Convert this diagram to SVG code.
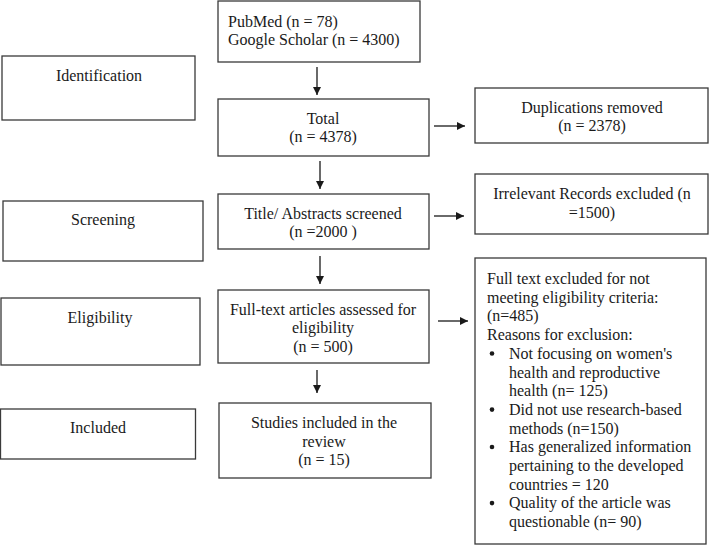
<svg xmlns="http://www.w3.org/2000/svg" width="709" height="548" viewBox="0 0 709 548">
<style>
.box{fill:#fff;stroke:#3a3a3a;stroke-width:1.3}
text{font-family:"Liberation Serif","Times New Roman",serif;font-size:16px;fill:#1a1a1a}
.c{text-anchor:middle}
.conn line{stroke:#1a1a1a;stroke-width:1.3}
</style>
<defs>
<marker id="ah" viewBox="0 0 10 10" refX="10" refY="5" markerWidth="8" markerHeight="8" markerUnits="userSpaceOnUse" orient="auto">
<path d="M0,0 L10,5 L0,10 z" fill="#1a1a1a"/>
</marker>
</defs>
<rect width="709" height="548" fill="#fff"/>
<g id="identification"><rect class="box" x="2" y="56" width="193" height="64"/><text class="c" x="99" y="81">Identification</text></g>
<g id="screening"><rect class="box" x="3" y="201" width="200" height="60"/><text class="c" x="103" y="225">Screening</text></g>
<g id="eligibility"><rect class="box" x="1" y="298" width="199" height="67"/><text class="c" x="100" y="323">Eligibility</text></g>
<g id="included"><rect class="box" x="0.5" y="409" width="195" height="50"/><text class="c" x="98" y="433">Included</text></g>
<g id="sources"><rect class="box" x="218" y="1" width="202" height="61"/><text x="228" y="27">PubMed (n = 78)</text><text x="228" y="45">Google Scholar (n = 4300)</text></g>
<g id="total"><rect class="box" x="218" y="99" width="211" height="57"/><text class="c" x="323" y="124">Total</text><text class="c" x="323" y="142">(n = 4378)</text></g>
<g id="screened"><rect class="box" x="218" y="194" width="211" height="55"/><text class="c" x="323" y="219">Title/ Abstracts screened</text><text class="c" x="323" y="237">(n =2000 )</text></g>
<g id="fulltext"><rect class="box" x="218" y="290" width="211" height="73"/><text class="c" x="323" y="315">Full-text articles assessed for</text><text class="c" x="323" y="333">eligibility</text><text class="c" x="323" y="352">(n = 500)</text></g>
<g id="studies"><rect class="box" x="219" y="403" width="212" height="75"/><text class="c" x="324" y="428">Studies included in the</text><text class="c" x="324" y="447">review</text><text class="c" x="324" y="465">(n = 15)</text></g>
<g id="duplications"><rect class="box" x="475" y="88" width="233" height="55"/><text class="c" x="592" y="113">Duplications removed</text><text class="c" x="592" y="131">(n = 2378)</text></g>
<g id="irrelevant"><rect class="box" x="475" y="174" width="233" height="60"/><text class="c" x="592" y="199">Irrelevant Records excluded (n</text><text class="c" x="592" y="218">=1500)</text></g>
<g id="excluded"><rect class="box" x="475" y="258" width="231" height="286"/>
<text x="487" y="284">Full text excluded for not</text>
<text x="487" y="302.7">meeting eligibility criteria:</text>
<text x="487" y="321.4">(n=485)</text>
<text x="487" y="340.1">Reasons for exclusion:</text>
<g>
<circle cx="492" cy="353.5" r="2.3" fill="#1a1a1a"/><text x="509" y="358.8">Not focusing on women's</text>
<text x="509" y="377.5">health and reproductive</text>
<text x="509" y="396.2">health (n= 125)</text>
<circle cx="492" cy="409.6" r="2.3" fill="#1a1a1a"/><text x="509" y="414.9">Did not use research-based</text>
<text x="509" y="433.6">methods (n=150)</text>
<circle cx="492" cy="447" r="2.3" fill="#1a1a1a"/><text x="509" y="452.3">Has generalized information</text>
<text x="509" y="471">pertaining to the developed</text>
<text x="509" y="489.7">countries = 120</text>
<circle cx="492" cy="503.1" r="2.3" fill="#1a1a1a"/><text x="509" y="508.4">Quality of the article was</text>
<text x="509" y="527.1">questionable (n= 90)</text>
</g>
</g>
<g id="connectors" class="conn">
<line x1="317" y1="67" x2="317" y2="95" marker-end="url(#ah)"/>
<line x1="320" y1="161" x2="320" y2="189" marker-end="url(#ah)"/>
<line x1="320" y1="256" x2="320" y2="284" marker-end="url(#ah)"/>
<line x1="317" y1="370" x2="317" y2="393" marker-end="url(#ah)"/>
<line x1="434" y1="126" x2="465" y2="126" marker-end="url(#ah)"/>
<line x1="434" y1="216" x2="464" y2="216" marker-end="url(#ah)"/>
<line x1="438" y1="321" x2="468" y2="321" marker-end="url(#ah)"/>
</g>
</svg>
